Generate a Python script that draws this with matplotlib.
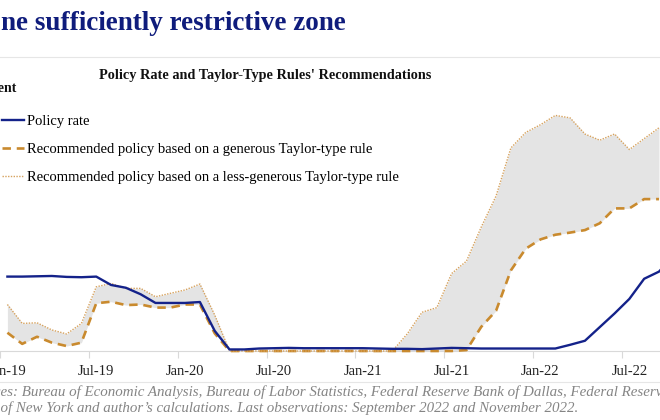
import numpy as np
import matplotlib.pyplot as plt
from matplotlib.lines import Line2D

plt.rcParams['font.family'] = ['Liberation Serif', 'DejaVu Serif']

# monthly data, Jan-19 onward
policy_rate = [2.40, 2.40, 2.41, 2.42, 2.39, 2.38, 2.40, 2.13, 2.04, 1.83, 1.55, 1.55,
               1.55, 1.58, 0.65, 0.05, 0.05, 0.08, 0.09, 0.10, 0.09, 0.09, 0.09, 0.09,
               0.09, 0.08, 0.07, 0.07, 0.06, 0.08, 0.10, 0.09, 0.08, 0.08, 0.08, 0.08,
               0.08, 0.08, 0.20, 0.33, 0.77, 1.21, 1.68, 2.33, 2.56, 3.08, 3.78]
generous = [0.59, 0.23, 0.46, 0.27, 0.16, 0.27, 1.54, 1.59, 1.48, 1.50, 1.40, 1.40,
            1.50, 1.50, 0.57, 0, 0, 0, 0, 0, 0, 0, 0, 0,
            0, 0, 0, 0, 0, 0, 0, 0.03, 0.78, 1.30, 2.60, 3.30,
            3.60, 3.75, 3.82, 3.90, 4.12, 4.60, 4.60, 4.90, 4.90]
less_generous = [1.50, 0.89, 0.91, 0.68, 0.55, 0.89, 2.07, 2.18, 2.02, 2.02, 1.75, 1.86,
                 1.97, 2.16, 1.16, 0, 0, 0, 0, 0, 0, 0, 0, 0,
                 0, 0, 0, 0.55, 1.25, 1.40, 2.50, 2.90, 4.00, 5.00, 6.55, 7.05,
                 7.30, 7.60, 7.52, 7.00, 6.80, 7.00, 6.50, 6.85, 7.20]
tick_labels = ["Jan-19", "Jul-19", "Jan-20", "Jul-20", "Jan-21", "Jul-21", "Jan-22", "Jul-22"]
tick_pos = [0, 6, 12, 18, 24, 30, 36, 42]

W, H = 660, 420
fig = plt.figure(figsize=(6.6, 4.2), dpi=100)
ax = fig.add_axes([0, 1 - 351/H, 1, (351 - 103)/H])

x_pol = np.arange(len(policy_rate))
x_rule = np.arange(len(generous))

ax.fill_between(x_rule, generous, less_generous, color="#e4e4e4", lw=0, zorder=0.4)
ax.plot(x_pol, policy_rate, color="#14228a", lw=1.7, zorder=4, clip_on=False,
        label="Policy rate")
ax.plot(x_rule, generous, color="#c98a2e", lw=1.9, ls=(0, (3.2, 2.2)), zorder=3,
        clip_on=False, label="Recommended policy based on a generous Taylor-type rule")
ax.plot(x_rule, less_generous, color="#d6a25e", lw=1.0, ls=(0, (1, 1)), zorder=3,
        clip_on=False, label="Recommended policy based on a less-generous Taylor-type rule")

ax.set_xlim(-0.405, 44.07)
ax.set_ylim(0, 8)
ax.set_yticks(range(0, 9))
ax.yaxis.set_visible(False)
ax.grid(axis="y", color="#e3e3e3", lw=0.8)
ax.set_axisbelow(True)
for s in ["left", "right", "top"]:
    ax.spines[s].set_visible(False)
ax.spines["bottom"].set_color("#d9d9d9")
ax.spines["bottom"].set_linewidth(0.8)

ax.set_xticks(tick_pos)
ax.set_xticklabels(tick_labels, fontsize=10.5, color="#222222")
ax.set_xticks([p - 0.5 for p in tick_pos], minor=True)
ax.tick_params(axis="x", which="major", length=0, pad=10)
ax.tick_params(axis="x", which="minor", length=5, color="#d9d9d9", width=0.8)

leg = ax.legend(loc="upper left", bbox_to_anchor=(2/W, 1 - 115/H),
                bbox_transform=fig.transFigure, frameon=False, fontsize=10.5,
                handlelength=1.5, handletextpad=0.2, labelspacing=1.0,
                borderpad=0, borderaxespad=0)

# separators
fig.add_artist(Line2D([0, 1], [1 - 57/H, 1 - 57/H], color="#e6e6e6", lw=0.8))
fig.add_artist(Line2D([0, 1], [1 - 382/H, 1 - 382/H], color="#e6e6e6", lw=0.8))

fig.text(1/W, 1 - 23/H, "ne sufficiently restrictive zone", fontsize=19.5, fontweight="bold",
         color="#0f1c7c", va="center", ha="left")
fig.text(265/W, 1 - 75/H, "Policy Rate and Taylor-Type Rules' Recommendations",
         fontsize=10.3, fontweight="bold", color="#111111", va="center", ha="center")
fig.text(17/W, 1 - 88/H, "Percent", fontsize=10, fontweight="bold", color="#111111",
         va="center", ha="right")

fig.text(-34/W, 1 - 392/H,
         "Sources: Bureau of Economic Analysis, Bureau of Labor Statistics, Federal Reserve Bank of Dallas, Federal Reserve",
         fontsize=10.8, style="italic", color="#858585", va="center", ha="left")
fig.text(-34/W, 1 - 408/H,
         "Bank of New York and author\u2019s calculations. Last observations: September 2022 and November 2022.",
         fontsize=10.8, style="italic", color="#858585", va="center", ha="left")

fig.savefig("out.png", dpi=100)
